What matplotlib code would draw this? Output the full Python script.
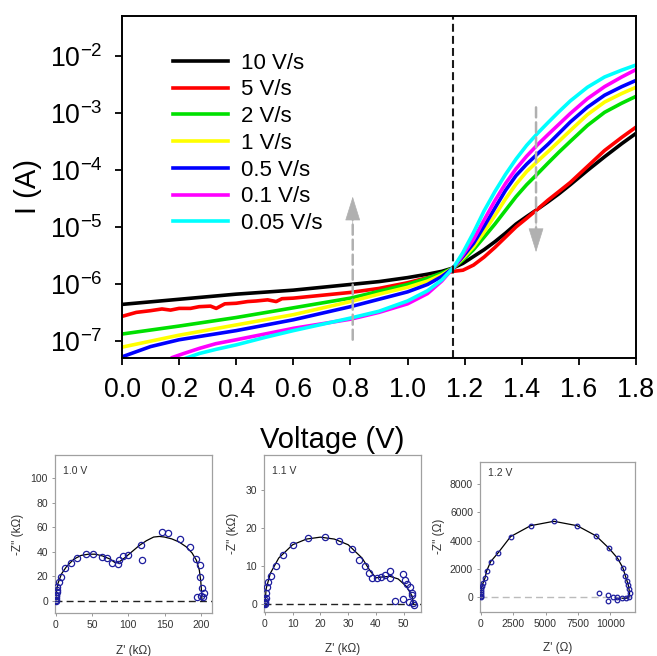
import numpy as np
import matplotlib
matplotlib.use('Agg')
import matplotlib.pyplot as plt
from matplotlib.ticker import FormatStrFormatter, NullLocator

plt.rcParams['font.family'] = ['Liberation Sans', 'DejaVu Sans']
plt.rcParams['mathtext.fontset'] = 'custom'
plt.rcParams['mathtext.rm'] = 'Liberation Sans'
plt.rcParams['mathtext.it'] = 'Liberation Sans:italic'

# ---- I-V sweeps, current stored as log10(I / A) ----
v_left = [0.0, 0.2, 0.4, 0.6, 0.8, 0.9, 1.0, 1.07, 1.12]
v_right = [1.16, 1.194, 1.231, 1.268, 1.306, 1.343, 1.38, 1.417, 1.455, 1.492, 1.53, 1.57,
           1.63, 1.69, 1.75, 1.80]

v_10 = v_left + v_right
logi_10 = [-6.36, -6.27, -6.18, -6.11, -6.01, -5.96, -5.89, -5.83, -5.78,
           -5.72, -5.64, -5.52, -5.40, -5.26, -5.11, -4.95, -4.82, -4.69, -4.56, -4.42, -4.26,
           -4.01, -3.77, -3.54, -3.36]

v_5 = [0.0, 0.05, 0.10, 0.14, 0.17, 0.20, 0.24, 0.27, 0.31, 0.33, 0.36, 0.40, 0.44,
       0.47, 0.51, 0.54, 0.56, 0.60, 0.70, 0.80, 0.90, 1.0, 1.07, 1.12] + v_right
logi_5 = [-6.57, -6.50, -6.47, -6.44, -6.46, -6.43, -6.43, -6.40, -6.39, -6.43, -6.35, -6.34, -6.31,
          -6.30, -6.28, -6.31, -6.26, -6.25, -6.20, -6.15, -6.08, -5.98, -5.89, -5.83,
          -5.78, -5.76, -5.67, -5.53, -5.36, -5.18, -5.00, -4.85, -4.69, -4.53, -4.38, -4.22,
          -3.94, -3.66, -3.43, -3.25]

v_2 = v_left + v_right
logi_2 = [-6.88, -6.74, -6.59, -6.42, -6.25, -6.13, -6.01, -5.90, -5.81,
          -5.72, -5.58, -5.40, -5.18, -4.95, -4.71, -4.47, -4.26, -4.07, -3.88, -3.69, -3.50,
          -3.22, -2.99, -2.83, -2.71]

v_1 = v_left + v_right
logi_1 = [-7.11, -6.90, -6.72, -6.54, -6.31, -6.18, -6.06, -5.95, -5.84,
          -5.72, -5.55, -5.35, -5.09, -4.80, -4.51, -4.25, -4.03, -3.85, -3.68, -3.50, -3.31,
          -3.03, -2.81, -2.66, -2.55]

v_05 = [0.0, 0.1] + v_left[1:] + v_right
logi_05 = [-7.28, -7.10, -6.98, -6.82, -6.63, -6.40, -6.27, -6.14, -6.01, -5.87,
           -5.72, -5.52, -5.29, -4.99, -4.67, -4.36, -4.10, -3.90, -3.72, -3.55, -3.36, -3.16,
           -2.90, -2.69, -2.54, -2.43]

v_01 = [0.177, 0.217, 0.272, 0.328, 0.40, 0.50, 0.60, 0.80, 0.9, 1.0, 1.07, 1.12] + v_right
logi_01 = [-7.29, -7.22, -7.13, -7.05, -6.98, -6.88, -6.78, -6.62, -6.50, -6.35, -6.17, -5.95,
           -5.72, -5.49, -5.22, -4.88, -4.54, -4.24, -3.98, -3.76, -3.56, -3.38, -3.20, -3.01,
           -2.75, -2.54, -2.37, -2.24]

v_005 = [0.226, 0.272, 0.328, 0.40, 0.50, 0.60, 0.80, 0.9, 1.0, 1.07, 1.12] + v_right
logi_005 = [-7.30, -7.22, -7.15, -7.07, -6.94, -6.82, -6.60, -6.48, -6.30, -6.12, -5.93,
            -5.72, -5.45, -5.10, -4.72, -4.38, -4.08, -3.81, -3.57, -3.36, -3.17, -2.98, -2.79,
            -2.55, -2.37, -2.25, -2.16]

sweep_labels = ['10 V/s', '5 V/s', '2 V/s', '1 V/s', '0.5 V/s', '0.1 V/s', '0.05 V/s']
sweep_colors = ['#000000', '#ff0000', '#00e000', '#ffff00', '#0000ff', '#ff00ff', '#00ffff']
v_cross = 1.16

# ---- impedance spectra (Nyquist) ----
z1_re = [0, 0.3, 0.5, 0.7, 1.0, 1.3, 1.7, 2.2, 4.5, 7.3, 13.2, 20.6, 29.7, 41.7, 51.7, 63.7, 70.2,
         77.5, 85.3, 87.1, 92.2, 99.9, 117, 119.2, 147.2, 155, 171, 184.8, 193, 198.6, 199,
         201.7, 204, 200.9, 194.9, 203]
z1_im = [0, 1, 2, 3.5, 5, 7, 9, 11.4, 15.5, 19.6, 26.7, 30.8, 34.6, 37.9, 38.4, 35.7, 34.6,
         31.0, 30.0, 33.3, 36.8, 37.3, 45.5, 33.3, 55.9, 55.6, 50.7, 43.9, 34.3, 28.9, 19.1,
         10.6, 6.0, 3.8, 2.8, 3.0]
fit1_re = [0, 1, 3, 8, 15, 25, 35, 45, 55, 65, 75, 82, 87, 95, 105, 115, 125, 135, 143, 150,
           160, 170, 180, 188, 194, 198, 200, 201, 201.5, 201.5]
fit1_im = [0, 8, 14, 22, 28, 34, 37, 38, 38, 36.5, 34, 31, 31.5, 35, 40, 45, 49, 52, 52.5, 52,
           50.5, 48, 44, 39, 33, 25, 16, 8, 2, 0]

z2_re = [0, 0.1, 0.15, 0.2, 0.3, 0.36, 0.72, 1.2, 2.2, 3.85, 6.6, 10.2, 15.6, 21.6, 26.6, 31.2,
         33.8, 36.0, 37.5, 38.6, 40.2, 41.7, 43.2, 44.9, 45.0, 46.7, 49.8, 50.4, 51.3, 52.3,
         52.8, 53.0, 53.2, 53.6, 49.8, 51.9]
z2_im = [0, 0.5, 0.3, 1, 1.5, 2.7, 4.5, 5.8, 7.4, 9.9, 12.8, 15.5, 17.2, 17.5, 16.4, 14.4,
         11.5, 9.8, 8.0, 6.7, 6.7, 7.1, 7.6, 8.7, 6.7, 0.8, 7.8, 6.3, 5.2, 4.5,
         2.7, 2.3, 0.1, -0.3, 1.2, 0.5]
fit2_re = [0, 0.5, 2, 5, 10, 15, 20, 25, 30, 35, 38, 40, 42, 45, 48, 51, 53, 53.5]
fit2_im = [0, 4, 8, 12, 15.5, 17, 17.5, 17, 15.5, 12, 8.5, 6.8, 7, 7.2, 6.5, 4.5, 2, 0]

z3_re = [0, 10, 20, 30, 40, 60, 80, 179, 333, 462, 769, 1359, 2308, 3846, 5641, 7436, 8897,
         9872, 10564, 10974, 11154, 11282, 11385, 11436, 11487, 11436, 11231, 10897, 10513,
         10205, 9795, 9100, 9820, 10513]
z3_im = [0, 100, 200, 350, 500, 650, 800, 988, 1341, 1856, 2512, 3148, 4277, 5053, 5364, 5053,
         4326, 3479, 2752, 2068, 1524, 1172, 868, 565, 282, 42, -71, -71, 42,
         42, 162, 325, -240, -191]
fit3_re = [0, 50, 180, 330, 460, 770, 1360, 2310, 3850, 5640, 7440, 8900, 9870, 10560, 10970,
           11150, 11280, 11380, 11440, 11480, 11440, 11230, 10900]
fit3_im = [0, 600, 1000, 1340, 1850, 2510, 3150, 4280, 5050, 5360, 5050, 4330, 3480, 2750, 2070,
           1520, 1170, 870, 560, 280, 40, -70, -70]

# ---------------------------------------------------------------
fig = plt.figure(figsize=(6.57, 6.56), dpi=100)
ax = fig.add_axes([0.1857, 0.4543, 0.7823, 0.5213])

sweep_v = [v_10, v_5, v_2, v_1, v_05, v_01, v_005]
sweep_logi = [logi_10, logi_5, logi_2, logi_1, logi_05, logi_01, logi_005]
for v, li, c, lab in zip(sweep_v, sweep_logi, sweep_colors, sweep_labels):
    ax.plot(v, 10.0 ** np.array(li), color=c, lw=2.6, label=lab)

ax.set_yscale('log')
ax.set_ylim(10 ** -7.3, 10 ** -1.3)
ax.set_xlim(0, 1.8)
ax.set_xticks(np.linspace(0, 1.8, 10))
ax.xaxis.set_major_formatter(FormatStrFormatter('%.1f'))
ax.set_yticks([1e-7, 1e-6, 1e-5, 1e-4, 1e-3, 1e-2])
ax.yaxis.set_minor_locator(NullLocator())
ax.tick_params(direction='out', length=5, width=1.3, labelsize=19.3, pad=9)
for s in ax.spines.values():
    s.set_linewidth(1.4)

ax.axvline(v_cross, color='#1a1a1a', lw=1.5, ls=(0, (3.8, 2.0)))

# grey trend arrows: dashed shaft + solid head
grey = '#b0b0b0'
shaft_kw = dict(arrowstyle='-', color=grey, lw=1.8, linestyle=(0, (4, 2)), shrinkA=0, shrinkB=0)
head_kw = dict(arrowstyle='-|>,head_length=1.6,head_width=0.5', color=grey, lw=0.5,
               mutation_scale=10, shrinkA=0, shrinkB=0)
ax.annotate('', xy=(0.808, 1.6e-5), xytext=(0.808, 1.05e-7), arrowprops=shaft_kw)
ax.annotate('', xy=(0.808, 3.4e-5), xytext=(0.808, 1.0e-5), arrowprops=head_kw)
ax.annotate('', xy=(1.45, 8.0e-6), xytext=(1.45, 1.25e-3), arrowprops=shaft_kw)
ax.annotate('', xy=(1.45, 3.6e-6), xytext=(1.45, 1.2e-5), arrowprops=head_kw)

ax.legend(loc='upper left', bbox_to_anchor=(0.099, 0.893), frameon=False, fontsize=16,
          handlelength=2.5, handletextpad=0.58, labelspacing=0.26,
          borderaxespad=0, borderpad=0)

ax.set_xlabel('Voltage (V)', fontsize=21)
ax.xaxis.set_label_coords(0.4086, -0.198)
ax.set_ylabel('I (A)', fontsize=21)
ax.yaxis.set_label_coords(-0.156, 0.5)


def nyquist(rect, zr, zi, fr, fi, xlim, ylim, xticks, yticks, tag, tag_y, unit, zero_col, ms, ylab_x):
    a = fig.add_axes(rect)
    a.axhline(0, color=zero_col, lw=1.0, ls=(0, (5, 3)), zorder=1)
    a.plot(fr, fi, color='black', lw=0.9, zorder=2)
    a.plot(zr, zi, ls='none', marker='o', ms=ms, mfc='none', mec='#1e1e9e', mew=0.9, zorder=3)
    a.set_xlim(*xlim)
    a.set_ylim(*ylim)
    a.set_xticks(xticks)
    a.set_yticks(yticks)
    a.tick_params(direction='out', length=2.5, width=0.6, color='#888888',
                  labelsize=7.5, labelcolor='#333333', pad=2.5)
    for s in a.spines.values():
        s.set_color('#a0a0a0')
        s.set_linewidth(0.9)
    a.text(0.05, tag_y, tag, transform=a.transAxes, fontsize=7.5, color='#333333', va='top')
    a.set_xlabel("Z' (%s)" % unit, fontsize=8.5, color='#333333')
    a.xaxis.set_label_coords(0.5, -0.2)
    a.set_ylabel("-Z'' (%s)" % unit, fontsize=8.5, color='#333333')
    a.yaxis.set_label_coords(ylab_x, 0.5)
    return a


nyquist([0.0837, 0.0655, 0.239, 0.241], z1_re, z1_im, fit1_re, fit1_im,
        (-1, 215.5), (-10, 119), [0, 50, 100, 150, 200], [0, 20, 40, 60, 80, 100],
        '1.0 V', 0.93, 'k\u03a9', '#222222', 4.5, -0.197)
nyquist([0.4018, 0.0676, 0.239, 0.2393], z2_re, z2_im, fit2_re, fit2_im,
        (-0.3, 56.2), (-2.1, 39.2), [0, 10, 20, 30, 40, 50], [0, 10, 20, 30],
        '1.1 V', 0.93, 'k\u03a9', '#222222', 4.5, -0.158)
nyquist([0.7306, 0.0676, 0.2359, 0.2287], z3_re, z3_im, fit3_re, fit3_im,
        (-50, 11900), (-1016, 9570), [0, 2500, 5000, 7500, 10000], [0, 2000, 4000, 6000, 8000],
        '1.2 V', 0.96, '\u03a9', '#bbbbbb', 3.3, -0.223)

fig.savefig('out.png', dpi=100, facecolor='white')
